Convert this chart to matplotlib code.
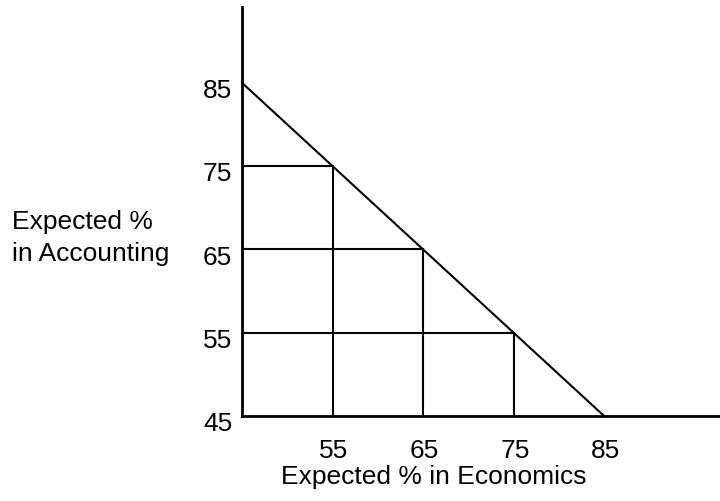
import matplotlib
matplotlib.use("Agg")
from matplotlib import pyplot as plt

plt.rcParams['font.family'] = ['Liberation Sans', 'DejaVu Sans']

# budget line and the grid of combinations under it
line_x = [45, 85]
line_y = [85, 45]
steps = [55, 65, 75]          # where the boxes stop
tops = [75, 65, 55]           # height of each box column
x_ticks = [55, 65, 75, 85]
y_ticks = [45, 55, 65, 75, 85]

fig = plt.figure(figsize=(7.2, 5.01), dpi=100)
ax = fig.add_axes([242 / 720, 85 / 501, 478 / 720, 409 / 501])
ax.set_xlim(45, 97.8)
ax.set_ylim(45, 94.1)

for s in ['top', 'right']:
    ax.spines[s].set_visible(False)
for s in ['left', 'bottom']:
    ax.spines[s].set_linewidth(2)
ax.set_xticks([])
ax.set_yticks([])

ax.plot(line_x, line_y, color='black', lw=1.5, clip_on=False)

# horizontal and vertical lines of the boxes
for s, t in zip(steps, tops):
    ax.plot([45, s], [t, t], color='black', lw=1.5)
    ax.plot([s, s], [45, t], color='black', lw=1.5)

for v in y_ticks:
    ax.annotate(str(v), (45, v), xytext=(-7, -6), textcoords='offset points',
                ha='right', va='center', fontsize=19)
for v in x_ticks:
    ax.annotate(str(v), (v, 45), xytext=(1, -25), textcoords='offset points',
                ha='center', va='center', fontsize=19)

fig.text(434 / 720, 1 - 477 / 501, 'Expected % in Economics',
         ha='center', va='center', fontsize=19)
fig.text(12 / 720, 1 - 238 / 501, 'Expected %\nin Accounting',
         ha='left', va='center', fontsize=19, linespacing=1.4)

fig.savefig('out.png', dpi=100)
